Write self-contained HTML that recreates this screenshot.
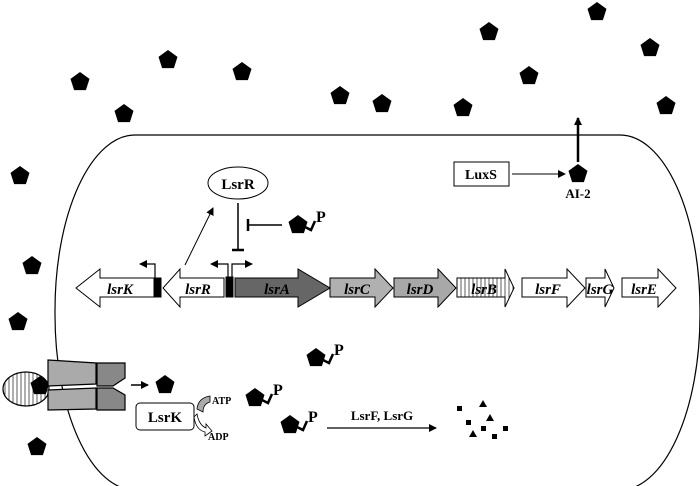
<!DOCTYPE html>
<html><head><style>body{margin:0;background:#fff}svg{display:block}text{font-family:"Liberation Serif",serif;font-weight:bold}</style></head><body>
<svg width="700" height="486" viewBox="0 0 700 486">
<defs>
<polygon id="p" points="0,-10 9.5,-3.1 5.9,8.1 -5.9,8.1 -9.5,-3.1" fill="#000"/>
<g id="pp"><use href="#p"/><path d="M7,2 L13,5 L17,-4" stroke="#000" stroke-width="2.5" fill="none"/><text x="18" y="-3" font-size="16">P</text></g>
<marker id="a" markerWidth="8" markerHeight="8" refX="7" refY="4" orient="auto" markerUnits="userSpaceOnUse"><path d="M0,0 L8,4 L0,8z" fill="#000"/></marker>
<pattern id="v" width="4" height="4" patternUnits="userSpaceOnUse"><rect width="4" height="4" fill="#fff"/><line x1="1" y1="0" x2="1" y2="4" stroke="#333" stroke-width="0.8"/></pattern>
</defs>
<rect x="55" y="135" width="645" height="355" rx="80" ry="175" fill="none" stroke="#000" stroke-width="1.2"/>
<g>
<use href="#p" x="597" y="12"/><use href="#p" x="489" y="32"/><use href="#p" x="650" y="48"/><use href="#p" x="168" y="60"/><use href="#p" x="242" y="72"/><use href="#p" x="529" y="76"/><use href="#p" x="80" y="82"/><use href="#p" x="340" y="96"/><use href="#p" x="382" y="104"/><use href="#p" x="463" y="108"/><use href="#p" x="124" y="114"/><use href="#p" x="666" y="106"/><use href="#p" x="20" y="176"/><use href="#p" x="32" y="266"/><use href="#p" x="18" y="322"/><use href="#p" x="37" y="447"/>
</g>
<rect x="454" y="162" width="55" height="24" fill="#fff" stroke="#000"/>
<text x="481" y="179" font-size="14" text-anchor="middle">LuxS</text>
<line x1="512" y1="174" x2="565" y2="174" stroke="#000" marker-end="url(#a)"/>
<use href="#p" x="578" y="174"/>
<text x="578" y="198" font-size="13" text-anchor="middle">AI-2</text>
<line x1="578" y1="162" x2="578" y2="118" stroke="#000" stroke-width="2.5" marker-end="url(#a)"/>
<ellipse cx="238" cy="183" rx="30" ry="16" fill="#fff" stroke="#000"/>
<text x="238" y="189" font-size="15" text-anchor="middle">LsrR</text>
<line x1="185" y1="265" x2="213" y2="208" stroke="#000" marker-end="url(#a)"/>
<line x1="238" y1="203" x2="238" y2="250" stroke="#000" stroke-width="1.5"/><line x1="232" y1="250" x2="244" y2="250" stroke="#000" stroke-width="2.5"/>
<line x1="282" y1="225" x2="248" y2="225" stroke="#000" stroke-width="1.5"/><line x1="248" y1="219" x2="248" y2="231" stroke="#000" stroke-width="2.5"/>
<use href="#pp" x="298" y="225"/>
<path d="M155,280 V264 H140" stroke="#000" fill="none" stroke-width="1.2" marker-end="url(#a)"/>
<path d="M228,280 V264 H211" stroke="#000" fill="none" stroke-width="1.2" marker-end="url(#a)"/>
<path d="M232,280 V264 H252" stroke="#000" fill="none" stroke-width="1.2" marker-end="url(#a)"/>
<g stroke="#000" stroke-width="1">
<polygon points="154,278 100,278 100,269 76,288 100,307 100,297 154,297" fill="#fff"/>
<rect x="155" y="278" width="6" height="19" fill="#000"/>
<polygon points="224,278 180,278 180,269 163,288 180,307 180,297 224,297" fill="#fff"/>
<rect x="226" y="277" width="7" height="20" fill="#000"/>
<polygon points="235,278 298,278 298,269 330,288 298,307 298,297 235,297" fill="#666"/>
<polygon points="330,278 375,278 375,269 393,288 375,307 375,297 330,297" fill="#b0b0b0"/>
<polygon points="394,278 438,278 438,269 456,288 438,307 438,297 394,297" fill="#a8a8a8"/>
<polygon points="457,278 505,278 505,269 514,288 505,307 505,297 457,297" fill="url(#v)"/>
<polygon points="522,278 567,278 567,269 585,288 567,307 567,297 522,297" fill="#fff"/>
<polygon points="586,278 605,278 605,269 614,288 605,307 605,297 586,297" fill="#fff"/>
<polygon points="622,278 658,278 658,269 676,288 658,307 658,297 622,297" fill="#fff"/>
</g>
<g font-size="15" font-style="italic" text-anchor="middle">
<text x="120" y="294">lsrK</text><text x="198" y="294">lsrR</text><text x="277" y="294">lsrA</text><text x="357" y="294">lsrC</text><text x="420" y="294">lsrD</text><text x="484" y="294">lsrB</text><text x="548" y="294">lsrF</text><text x="600" y="294">lsrG</text><text x="644" y="294">lsrE</text>
</g>
<ellipse cx="26" cy="389" rx="23" ry="17" fill="url(#v)" stroke="#000" stroke-width="1.2"/>
<use href="#p" x="40" y="386"/>
<g stroke="#000" stroke-width="1.2">
<polygon points="48,360 96,363 96,384 48,386" fill="#aaa"/>
<polygon points="48,390 96,388 96,409 48,410" fill="#aaa"/>
<polygon points="97,363 125,363 125,378 113,386 97,386" fill="#888"/>
<polygon points="97,388 113,388 125,395 125,410 97,410" fill="#888"/>
</g>
<line x1="131" y1="385" x2="148" y2="385" stroke="#000" stroke-width="1.5" marker-end="url(#a)"/>
<use href="#p" x="165" y="385"/>
<rect x="136" y="403" width="58" height="27" rx="4" fill="#fff" stroke="#000"/>
<text x="165" y="422" font-size="15" text-anchor="middle">LsrK</text>
<path d="M197,409 Q198,398 210,396 L210,402 Q203,404 203,412z" fill="#aaa" stroke="#000" stroke-width="0.8"/>
<path d="M197,414 Q199,425 206,428 L206,424 L212,431 L205,436 L205,432 Q196,430 194,417z" fill="#fff" stroke="#000" stroke-width="0.8"/>
<text x="212" y="404" font-size="10">ATP</text><text x="208" y="440" font-size="10">ADP</text>
<use href="#pp" x="316" y="358"/><use href="#pp" x="255" y="398"/><use href="#pp" x="290" y="425"/>
<line x1="327" y1="428" x2="436" y2="428" stroke="#000" stroke-width="1.2" marker-end="url(#a)"/>
<text x="382" y="420" font-size="13" text-anchor="middle">LsrF, LsrG</text>
<g fill="#000">
<rect x="457" y="406" width="5" height="5"/><polygon points="483,400 487,407 479,407"/><rect x="466" y="420" width="5" height="5"/><polygon points="490,414 494,421 486,421"/><rect x="481" y="426" width="5" height="5"/><rect x="503" y="426" width="5" height="5"/><polygon points="473,430 477,437 469,437"/><rect x="492" y="434" width="5" height="5"/>
</g>
</svg>
</body></html>
